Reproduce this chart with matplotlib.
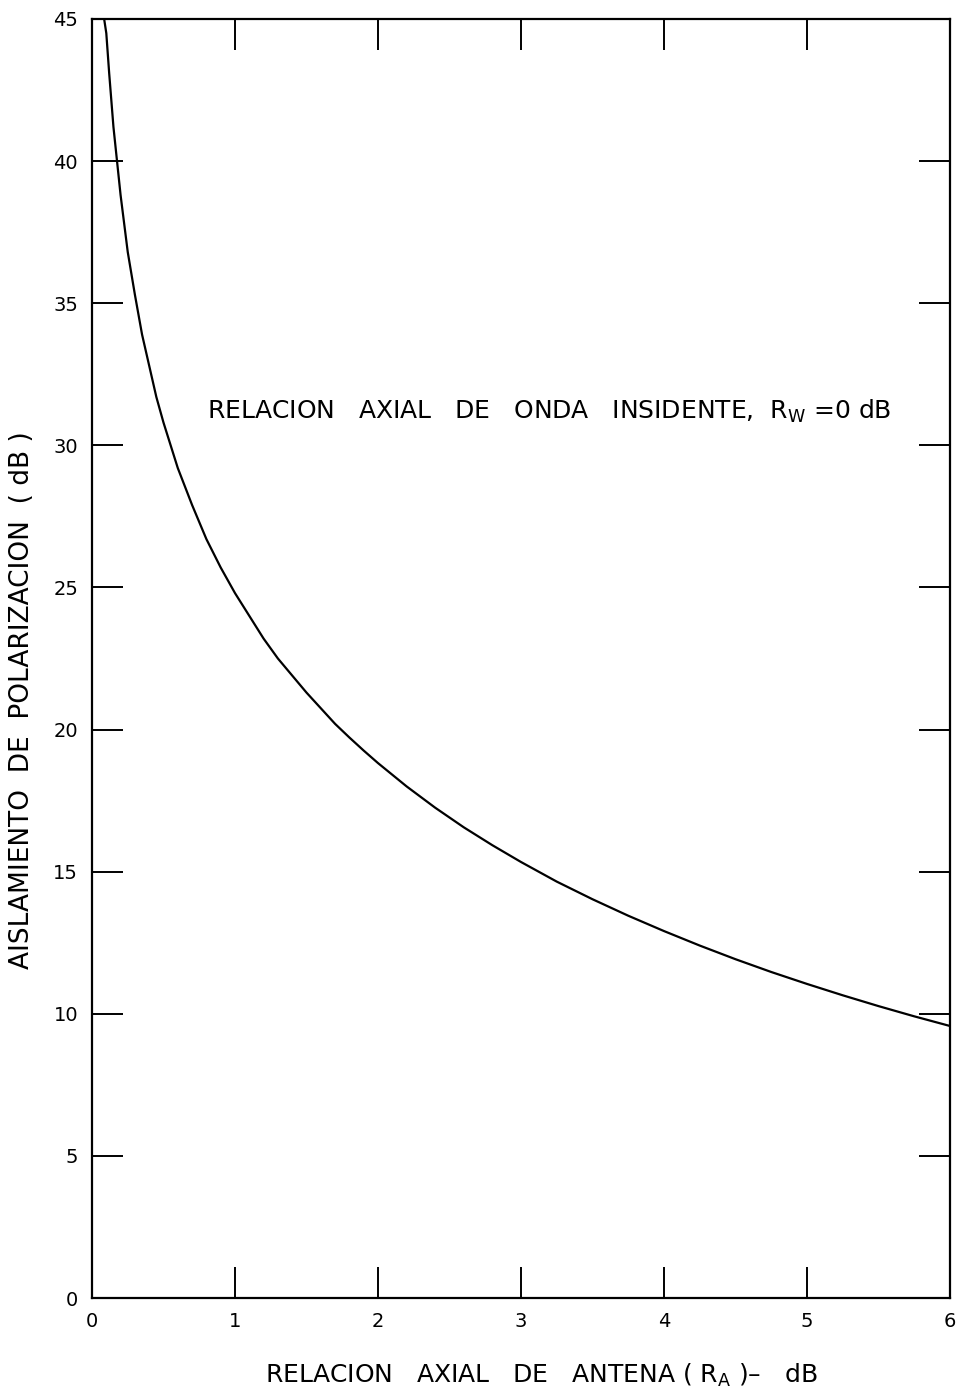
import matplotlib
matplotlib.use("Agg")
import matplotlib.pyplot as plt

# Data
axial_ratio_antenna_db = [0.085, 0.1, 0.12, 0.15, 0.2, 0.25, 0.3, 0.35, 0.4, 0.45, 0.5,
                          0.6, 0.7, 0.8, 0.9, 1.0, 1.1, 1.2, 1.3, 1.4, 1.5, 1.6, 1.7,
                          1.8, 1.9, 2.0, 2.2, 2.4, 2.6, 2.8, 3.0, 3.25, 3.5, 3.75, 4.0,
                          4.25, 4.5, 4.75, 5.0, 5.25, 5.5, 5.75, 6.0]
isolation_db = [45.0, 44.5, 43.1, 41.2, 38.8, 36.8, 35.3, 33.9, 32.8, 31.7, 30.8,
                29.2, 27.9, 26.7, 25.7, 24.8, 24.0, 23.2, 22.5, 21.9, 21.3, 20.75, 20.2,
                19.72, 19.26, 18.82, 18.0, 17.25, 16.56, 15.93, 15.34, 14.65, 14.03, 13.45, 12.91,
                12.4, 11.92, 11.47, 11.05, 10.65, 10.27, 9.91, 9.57]
x_ticks = [0, 1, 2, 3, 4, 5, 6]
x_tick_labels = ["0", "1", "2", "3", "4", "5", "6"]
y_ticks = [0, 5, 10, 15, 20, 25, 30, 35, 40, 45]
y_tick_labels = ["0", "5", "10", "15", "20", "25", "30", "35", "40", "45"]

plt.rcParams['font.family'] = ['DejaVu Sans']

fig = plt.figure(figsize=(9.70, 13.94), dpi=100)
ax = fig.add_axes([92/970, 1 - 1298/1394, (950-92)/970, (1298-19)/1394])

ax.plot(axial_ratio_antenna_db, isolation_db, color='black', lw=1.6,
        solid_joinstyle='round')

ax.set_xlim(0, 6)
ax.set_ylim(0, 45)
ax.set_xticks(x_ticks)
ax.set_xticklabels(x_tick_labels)
ax.set_yticks(y_ticks)
ax.set_yticklabels(y_tick_labels)

for s in ax.spines.values():
    s.set_linewidth(1.6)
    s.set_color('black')

ax.tick_params(axis='both', direction='in', length=22, width=1.4, labelsize=14,
               colors='black', top=True, right=True)
ax.tick_params(axis='x', pad=10)
ax.tick_params(axis='y', pad=10)

ax.text((549-92)/858, 0.693, "RELACION   AXIAL   DE   ONDA   INSIDENTE,  R$_\\mathregular{W}$ =0 dB",
        transform=ax.transAxes, ha='center', va='center', fontsize=18)

fig.text(541/970, 1 - 1375/1394, "RELACION   AXIAL   DE   ANTENA ( R$_\\mathregular{A}$ )–   dB",
         ha='center', va='center', fontsize=18)
fig.text(22/970, 1 - 700/1394, "AISLAMIENTO  DE  POLARIZACION  ( dB )",
         ha='center', va='center', rotation=90, fontsize=19)

fig.savefig("out.png", dpi=100, facecolor='white')
